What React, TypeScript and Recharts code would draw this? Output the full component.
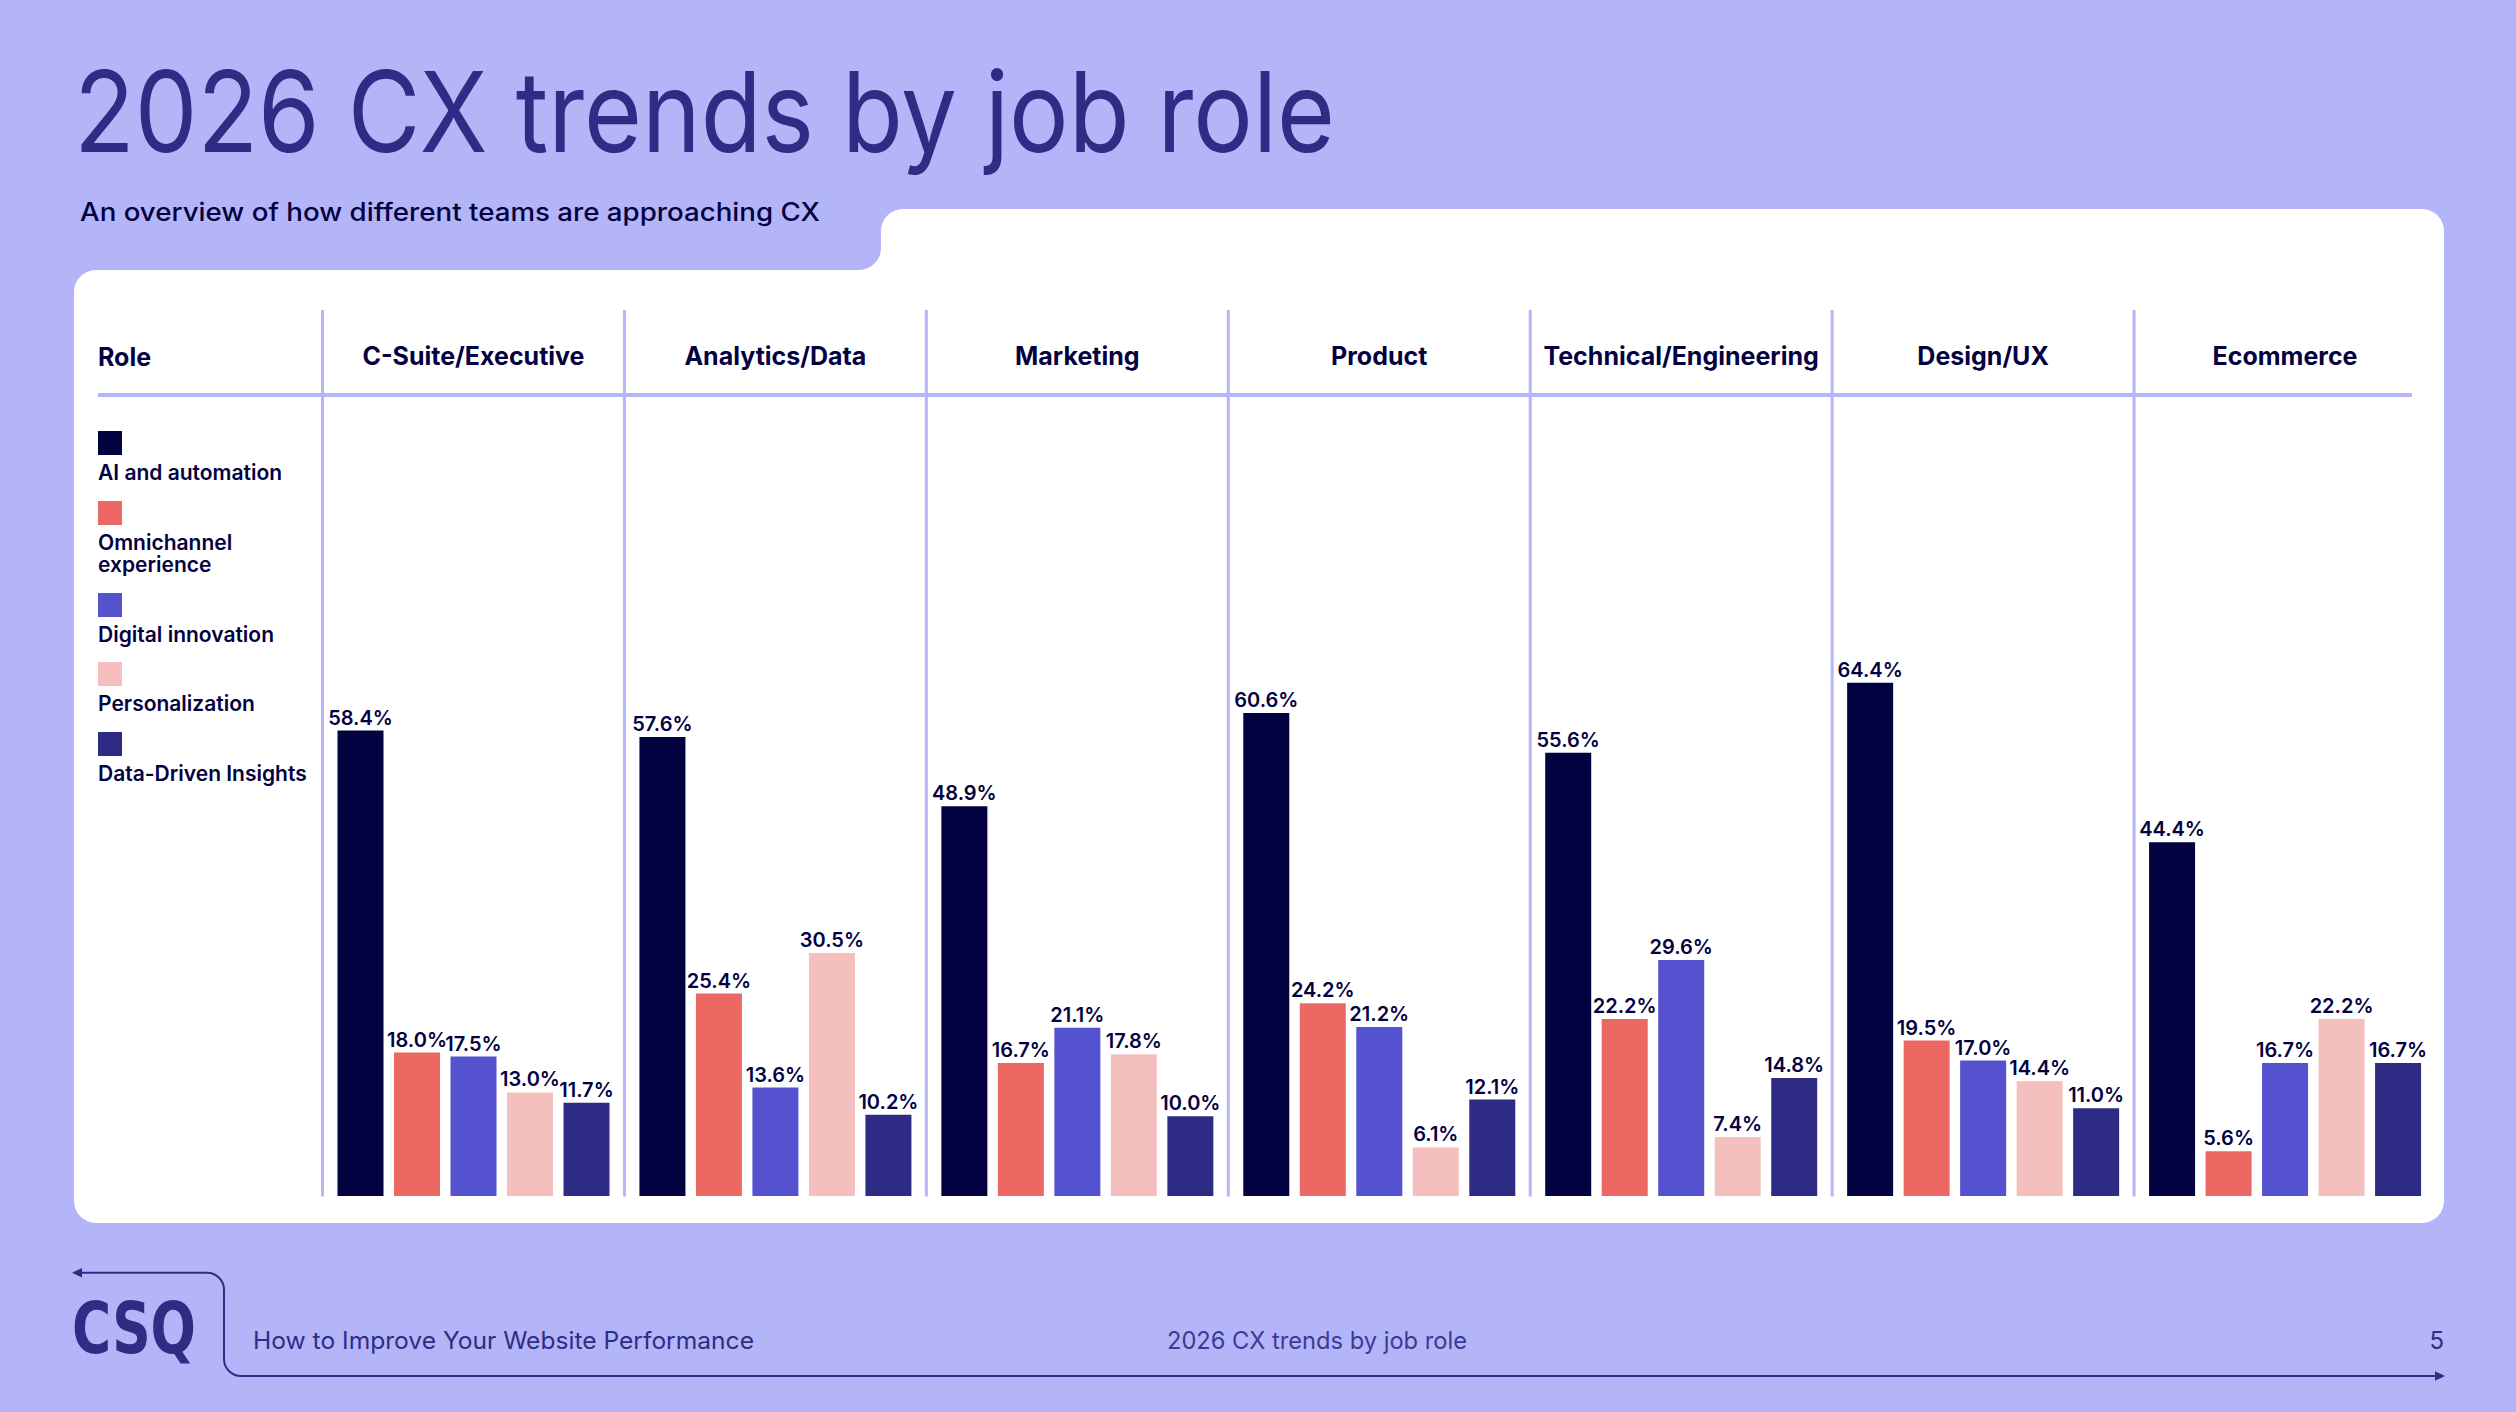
import React from "react";
import { Bar, BarChart, LabelList, Legend, XAxis, YAxis } from "recharts";

// CX trends by job role — grouped bars, one group per role, five trend
// series per group. Page chrome (card, title, footer) is drawn in a plain
// SVG layer underneath; the chart sits on top with a transparent surface.

const ROLES = [
  "C-Suite/Executive",
  "Analytics/Data",
  "Marketing",
  "Product",
  "Technical/Engineering",
  "Design/UX",
  "Ecommerce",
];

const AI_AUTOMATION = [58.4, 57.6, 48.9, 60.6, 55.6, 64.4, 44.4];
const OMNICHANNEL = [18.0, 25.4, 16.7, 24.2, 22.2, 19.5, 5.6];
const DIGITAL_INNOVATION = [17.5, 13.6, 21.1, 21.2, 29.6, 17.0, 16.7];
const PERSONALIZATION = [13.0, 30.5, 17.8, 6.1, 7.4, 14.4, 22.2];
const DATA_DRIVEN = [11.7, 10.2, 10.0, 12.1, 14.8, 11.0, 16.7];

const SERIES_NAMES = [
  "AI and automation",
  "Omnichannel experience",
  "Digital innovation",
  "Personalization",
  "Data-Driven Insights",
];

const Y_DOMAIN = [0, 100];

const TITLE = "2026 CX trends by job role";
const SUBTITLE = "An overview of how different teams are approaching CX";
const FOOTER_LEFT = "How to Improve Your Website Performance";
const FOOTER_MID = "2026 CX trends by job role";
const PAGE_NO = "5";

const COLORS = {
  page: "#b4b5f8",
  card: "#ffffff",
  rule: "#b4b6f9",
  ink: "#03023f",
  indigo: "#2e2c85",
  ai: "#030240",
  omni: "#ec6863",
  digital: "#5452cf",
  personal: "#f5bfbe",
  data: "#2e2b84",
};

const FONT = "Inter, 'Noto Sans', sans-serif";

const W = 2516;
const H = 1412;
const PLOT = { left: 322.5, right: 2436, top: 399, bottom: 1196 };
const BAND = (PLOT.right - PLOT.left) / ROLES.length;

const data = ROLES.map((role, i) => ({
  role,
  ai: AI_AUTOMATION[i],
  omni: OMNICHANNEL[i],
  digital: DIGITAL_INNOVATION[i],
  personal: PERSONALIZATION[i],
  insights: DATA_DRIVEN[i],
}));

const SERIES = [
  { key: "ai", name: SERIES_NAMES[0], color: COLORS.ai },
  { key: "omni", name: SERIES_NAMES[1], color: COLORS.omni },
  { key: "digital", name: SERIES_NAMES[2], color: COLORS.digital },
  { key: "personal", name: SERIES_NAMES[3], color: COLORS.personal },
  { key: "insights", name: SERIES_NAMES[4], color: COLORS.data },
];

const pct = (v: number) => `${Number(v).toFixed(1)}%`;

// header cell: role name plus the column's left divider
function HeaderTick(props: any) {
  const { x, payload } = props;
  const left = x - BAND / 2;
  return (
    <g>
      <line x1={left} x2={left} y1={310} y2={PLOT.bottom + 0.5} stroke={COLORS.rule} strokeWidth={3} />
      <text
        x={x}
        y={365}
        textAnchor="middle"
        fontFamily={FONT}
        fontSize={25}
        fontWeight={700}
        fill={COLORS.ink}
      >
        {payload.value}
      </text>
    </g>
  );
}

function LegendList({ payload }: { payload?: any[] }) {
  return (
    <div
      style={{
        fontFamily: FONT,
        fontSize: 21,
        fontWeight: 600,
        color: COLORS.ink,
        lineHeight: "22.5px",
        textAlign: "left",
      }}
    >
      {(payload || []).map((p) => (
        <div key={p.value} style={{ marginBottom: 16 }}>
          <div style={{ width: 24, height: 24, background: p.color, marginBottom: 7 }} />
          <div>{p.value}</div>
        </div>
      ))}
    </div>
  );
}

function Chrome() {
  const r = 22;
  const cardLeft = 74;
  const cardRight = 2444;
  const cardTop = 270;
  const tabTop = 209;
  const tabLeft = 881;
  const cardBottom = 1223;
  const card = [
    `M ${cardLeft} ${cardTop + r}`,
    `A ${r} ${r} 0 0 1 ${cardLeft + r} ${cardTop}`,
    `L ${tabLeft - r} ${cardTop}`,
    `A ${r} ${r} 0 0 0 ${tabLeft} ${cardTop - r}`,
    `L ${tabLeft} ${tabTop + r}`,
    `A ${r} ${r} 0 0 1 ${tabLeft + r} ${tabTop}`,
    `L ${cardRight - r} ${tabTop}`,
    `A ${r} ${r} 0 0 1 ${cardRight} ${tabTop + r}`,
    `L ${cardRight} ${cardBottom - r}`,
    `A ${r} ${r} 0 0 1 ${cardRight - r} ${cardBottom}`,
    `L ${cardLeft + r} ${cardBottom}`,
    `A ${r} ${r} 0 0 1 ${cardLeft} ${cardBottom - r}`,
    "Z",
  ].join(" ");

  const footerPath = [
    "M 80 1272.7",
    "L 207 1272.7",
    "A 17 17 0 0 1 224 1289.7",
    "L 224 1359",
    "A 17 17 0 0 0 241 1376",
    "L 2437 1376",
  ].join(" ");

  return (
    <svg width={W} height={H} style={{ position: "absolute", left: 0, top: 0 }}>
      <rect x={0} y={0} width={W} height={H} fill={COLORS.page} />
      <path d={card} fill={COLORS.card} />

      <text
        x={74}
        y={152}
        fontFamily={FONT}
        fontSize={112}
        fontWeight={400}
        fill={COLORS.indigo}
        textLength={1261}
        lengthAdjust="spacingAndGlyphs"
      >
        {TITLE}
      </text>
      <text
        x={80}
        y={221}
        fontFamily={FONT}
        fontSize={25}
        fontWeight={500}
        fill={COLORS.ink}
        textLength={740}
        lengthAdjust="spacingAndGlyphs"
      >
        {SUBTITLE}
      </text>

      {/* table header */}
      <text x={98} y={366} fontFamily={FONT} fontSize={25} fontWeight={700} fill={COLORS.ink}>
        Role
      </text>
      <line x1={98} x2={2412} y1={395} y2={395} stroke={COLORS.rule} strokeWidth={4} />

      {/* footer */}
      <path d={footerPath} fill="none" stroke={COLORS.indigo} strokeWidth={2} />
      <polygon points="72,1272.7 82,1268 82,1277.4" fill={COLORS.indigo} />
      <polygon points="2445,1376 2435,1371.3 2435,1380.7" fill={COLORS.indigo} />
      <text
        x={72}
        y={1353}
        fontFamily="'DejaVu Sans', sans-serif"
        fontSize={72}
        fontWeight={700}
        fill={COLORS.indigo}
        textLength={124}
        lengthAdjust="spacingAndGlyphs"
      >
        CSQ
      </text>
      <text
        x={253}
        y={1349}
        fontFamily={FONT}
        fontSize={24}
        fill={COLORS.indigo}
        textLength={501}
        lengthAdjust="spacingAndGlyphs"
      >
        {FOOTER_LEFT}
      </text>
      <text
        x={1167}
        y={1349}
        fontFamily={FONT}
        fontSize={24}
        fill="#3b3a96"
        textLength={300}
        lengthAdjust="spacingAndGlyphs"
      >
        {FOOTER_MID}
      </text>
      <text x={2444} y={1349} textAnchor="end" fontFamily={FONT} fontSize={24} fill={COLORS.indigo}>
        {PAGE_NO}
      </text>
    </svg>
  );
}

export default function App() {
  return (
    <div
      style={{
        position: "absolute",
        left: 0,
        top: 0,
        width: W,
        height: H,
        overflow: "hidden",
        background: COLORS.page,
      }}
    >
      <Chrome />
      <div style={{ position: "absolute", left: 0, top: 0 }}>
        <BarChart
          width={W}
          height={H}
          data={data}
          margin={{ top: PLOT.top - 30, right: W - PLOT.right, bottom: H - PLOT.bottom, left: PLOT.left }}
          barGap={10.5}
          barCategoryGap={0}
        >
          <XAxis
            dataKey="role"
            orientation="top"
            height={30}
            axisLine={false}
            tickLine={false}
            interval={0}
            tick={<HeaderTick />}
          />
          <YAxis hide domain={Y_DOMAIN} />
          <Legend
            layout="vertical"
            align="center"
            verticalAlign="middle"
            itemSorter={(item: any) => SERIES_NAMES.indexOf(item.value)}
            wrapperStyle={{ left: 98, top: 431, width: 218 }}
            content={(props: any) => <LegendList payload={props.payload} />}
          />
          {SERIES.map((s) => (
            <Bar
              key={s.key}
              dataKey={s.key}
              name={s.name}
              fill={s.color}
              barSize={46}
              isAnimationActive={false}
            >
              <LabelList
                dataKey={s.key}
                position="top"
                offset={6}
                formatter={pct}
                fill={COLORS.ink}
                fontFamily={FONT}
                fontSize={20}
                fontWeight={600}
              />
            </Bar>
          ))}
        </BarChart>
      </div>
    </div>
  );
}
